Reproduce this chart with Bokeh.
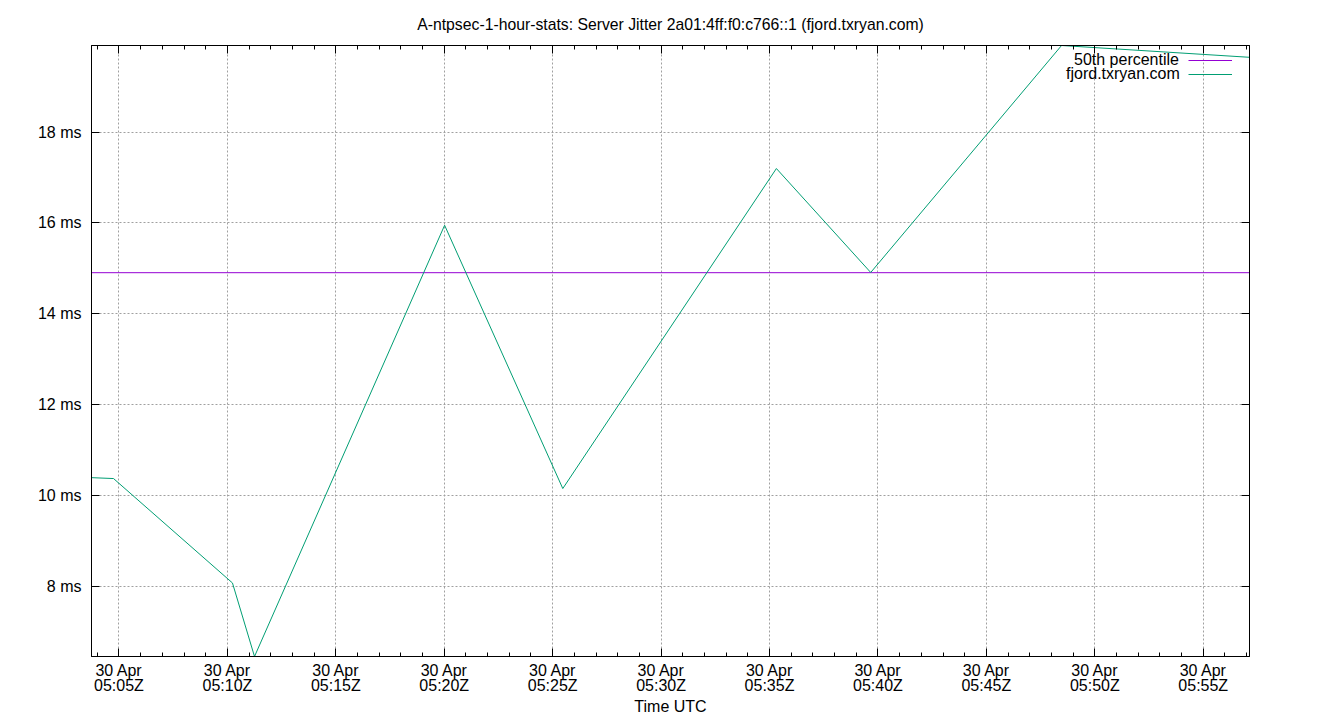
import pandas as pd
from bokeh.plotting import figure
from bokeh.models import (ColumnDataSource, Range1d, FixedTicker, DatetimeTickFormatter,
                          PrintfTickFormatter, DatetimeAxis, LinearAxis, Legend, LegendItem)
from bokeh.embed import file_html
from bokeh.resources import INLINE

# ---------------- data ----------------
TITLE = "A-ntpsec-1-hour-stats: Server Jitter 2a01:4ff:f0:c766::1 (fjord.txryan.com)"
X_LABEL = "Time UTC"
DAY = "2025-04-30"
sample_times = ["05:03:44", "05:04:45", "05:10:14", "05:11:15", "05:20:01",
                "05:25:28", "05:35:19", "05:39:40", "05:48:28", "05:57:08"]
jitter_ms = [10.39, 10.37, 8.07, 6.45, 15.95, 10.15, 17.20, 14.91, 19.91, 19.65]
p50_ms = 14.905
series_name = "fjord.txryan.com"
pct_name = "50th percentile"
y_ticks = [8, 10, 12, 14, 16, 18]
x_major_ticks = ["05:05", "05:10", "05:15", "05:20", "05:25", "05:30",
                 "05:35", "05:40", "05:45", "05:50", "05:55"]
x_minor_start, x_minor_end = "05:04", "05:57"

# ---------------- build ----------------
FONT = "Liberation Sans"
FS = "16px"
GREEN = "#009e73"
PURPLE = "#9400d3"

t = pd.to_datetime([f"{DAY} {s}" for s in sample_times])
src = ColumnDataSource(dict(t=t, v=jitter_ms))
pct_src = ColumnDataSource(dict(t=[t[0], t[-1]], v=[p50_ms, p50_ms]))

def ms(ts):
    return ts.value // 10**6

major = [ms(pd.Timestamp(f"{DAY} {s}")) for s in x_major_ticks]
minor = [ms(x) for x in pd.date_range(f"{DAY} {x_minor_start}", f"{DAY} {x_minor_end}", freq="1min")]
x_ticker = FixedTicker(ticks=major, minor_ticks=minor)
y_ticker = FixedTicker(ticks=y_ticks)

p = figure(x_axis_type="datetime", frame_width=1158, frame_height=611,
           min_border_left=91, min_border_top=45, min_border_right=75, min_border_bottom=5,
           output_backend="svg", toolbar_location=None,
           x_range=Range1d(t[0], t[-1]), y_range=Range1d(min(jitter_ms), max(jitter_ms)),
           title=TITLE)

p.title.align = "center"
p.title.text_font = FONT
p.title.text_font_size = "15.75px"
p.title.text_font_style = "normal"
p.title.text_color = "black"
p.title.standoff = 25

p.outline_line_color = "black"
p.outline_line_width = 1
p.background_fill_color = "white"
p.border_fill_color = "white"

fmt = "%d %b\n%H:%MZ"
xfmt = DatetimeTickFormatter(seconds=fmt, minsec=fmt, minutes=fmt, hourmin=fmt, hours=fmt,
                             days=fmt, strip_leading_zeros=False)

def style_axis(ax, labels=True):
    ax.axis_line_color = "black"
    ax.major_tick_in = 8
    ax.major_tick_out = 0
    ax.minor_tick_in = 4
    ax.minor_tick_out = 0
    ax.major_tick_line_color = "black"
    ax.minor_tick_line_color = "black"
    ax.major_label_text_font = FONT
    ax.major_label_text_font_size = FS if labels else "1px"
    ax.major_label_text_color = "black" if labels else None
    ax.axis_label_text_font = FONT
    ax.axis_label_text_font_size = FS
    ax.axis_label_text_font_style = "normal"
    ax.axis_label_text_color = "black"

xa = p.xaxis[0]
xa.ticker = x_ticker
xa.formatter = xfmt
style_axis(xa)
xa.major_label_standoff = 5
xa.major_label_text_line_height = 0.9
xa.axis_label = X_LABEL
xa.axis_label_standoff = 1

ya = p.yaxis[0]
ya.ticker = y_ticker
ya.formatter = PrintfTickFormatter(format="%d ms")
style_axis(ya)
ya.minor_tick_line_color = None
ya.major_label_standoff = 10

top = DatetimeAxis(ticker=x_ticker, formatter=xfmt)
style_axis(top, labels=False)
top.major_label_standoff = 0
p.add_layout(top, "above")

right = LinearAxis(ticker=y_ticker)
style_axis(right, labels=False)
right.minor_tick_line_color = None
right.major_label_standoff = 0
p.add_layout(right, "right")

for g in (p.xgrid[0], p.ygrid[0]):
    g.grid_line_color = "#a0a0a0"
    g.grid_line_dash = "2 2"
    g.grid_line_width = 1
p.xgrid[0].ticker = x_ticker
p.ygrid[0].ticker = y_ticker

r_pct = p.line("t", "v", source=pct_src, line_color=PURPLE, line_width=1)
r_line = p.line("t", "v", source=src, line_color=GREEN, line_width=1)

# gnuplot-style key: text right-aligned, sample line to its right (one legend per cell)
common = dict(padding=0, margin=0, spacing=0, background_fill_alpha=0,
              border_line_color=None, label_text_font=FONT, label_text_font_size=FS,
              label_text_color="black", label_standoff=0, glyph_height=18, label_height=15)

key_rows = [(pct_name, r_pct, 587), (series_name, r_line, 573)]
text_x = {pct_name: 983, series_name: 975}
for name, rend, vy in key_rows:
    p.add_layout(Legend(items=[LegendItem(label=name, renderers=[rend])],
                        location=(text_x[name], vy), glyph_width=0, label_width=0, **common))
    p.add_layout(Legend(items=[LegendItem(label="", renderers=[rend])],
                        location=(1097, vy), glyph_width=44, label_width=0, **common))

open("out.html", "w").write(file_html(p, INLINE))
